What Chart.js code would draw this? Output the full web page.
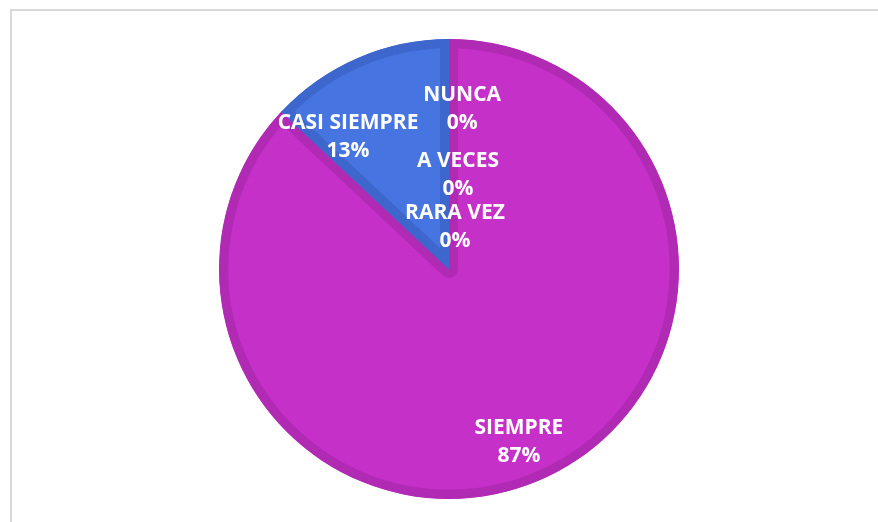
<!DOCTYPE html>
<html>
<head>
<meta charset="utf-8">
<script src="https://cdn.jsdelivr.net/npm/chart.js@4"></script>
<style>
    html, body { margin: 0; padding: 0; background: #fff; }
    #wrap { position: relative; width: 878px; height: 522px; overflow: hidden; }
    #frame {
        position: absolute; left: 10px; top: 9px; width: 900px; height: 600px;
        border-left: 2px solid #d9d9d9; border-top: 2px solid #d9d9d9;
    }
    canvas { position: absolute; left: 0; top: 0; }
</style>
</head>
<body>
<div id="wrap">
    <div id="frame"></div>
    <canvas id="chart" width="878" height="522"></canvas>
</div>
<script>
// --- Data ---
const categories = ['SIEMPRE', 'CASI SIEMPRE', 'A VECES', 'RARA VEZ', 'NUNCA'];
const percents = [87, 13, 0, 0, 0];

// --- Styles ---
const fillColors = ['#c430c8', '#4674e0', '#e07a30', '#a0a0a0', '#f0c020'];
const edgeColors = ['#b02ab4', '#3d67cc', '#c86a28', '#909090', '#d8ac1c'];
// label block centre, as offset from pie centre in units of the radius
const labelOffsets = [
    [0.304, 0.752],
    [-0.439, -0.574],
    [0.039, -0.409],
    [0.026, -0.183],
    [0.057, -0.696]
];

const pieLabels = {
    id: 'pieLabels',
    afterDatasetsDraw(chart) {
        const ctx = chart.ctx;
        const arcs = chart.getDatasetMeta(0).data;
        ctx.save();
        ctx.fillStyle = '#ffffff';
        ctx.font = 'bold 21px "Open Sans", Lato, sans-serif';
        ctx.textAlign = 'center';
        ctx.textBaseline = 'middle';
        arcs.forEach((arc, i) => {
            const r = arc.outerRadius;
            const x = arc.x + labelOffsets[i][0] * r;
            const y = arc.y + labelOffsets[i][1] * r;
            ctx.fillText(categories[i], x, y - 14);
            ctx.fillText(percents[i] + '%', x, y + 14);
        });
        ctx.restore();
    }
};

new Chart(document.getElementById('chart'), {
    type: 'pie',
    data: {
        labels: categories,
        datasets: [{
            data: percents,
            backgroundColor: fillColors,
            borderColor: edgeColors,
            borderWidth: 9,
            borderAlign: 'inner'
        }]
    },
    options: {
        responsive: false,
        animation: false,
        layout: { padding: { top: 39, bottom: 23, left: 20, right: 0 } },
        plugins: {
            legend: { display: false },
            tooltip: { enabled: false }
        }
    },
    plugins: [pieLabels]
});
</script>
</body>
</html>
